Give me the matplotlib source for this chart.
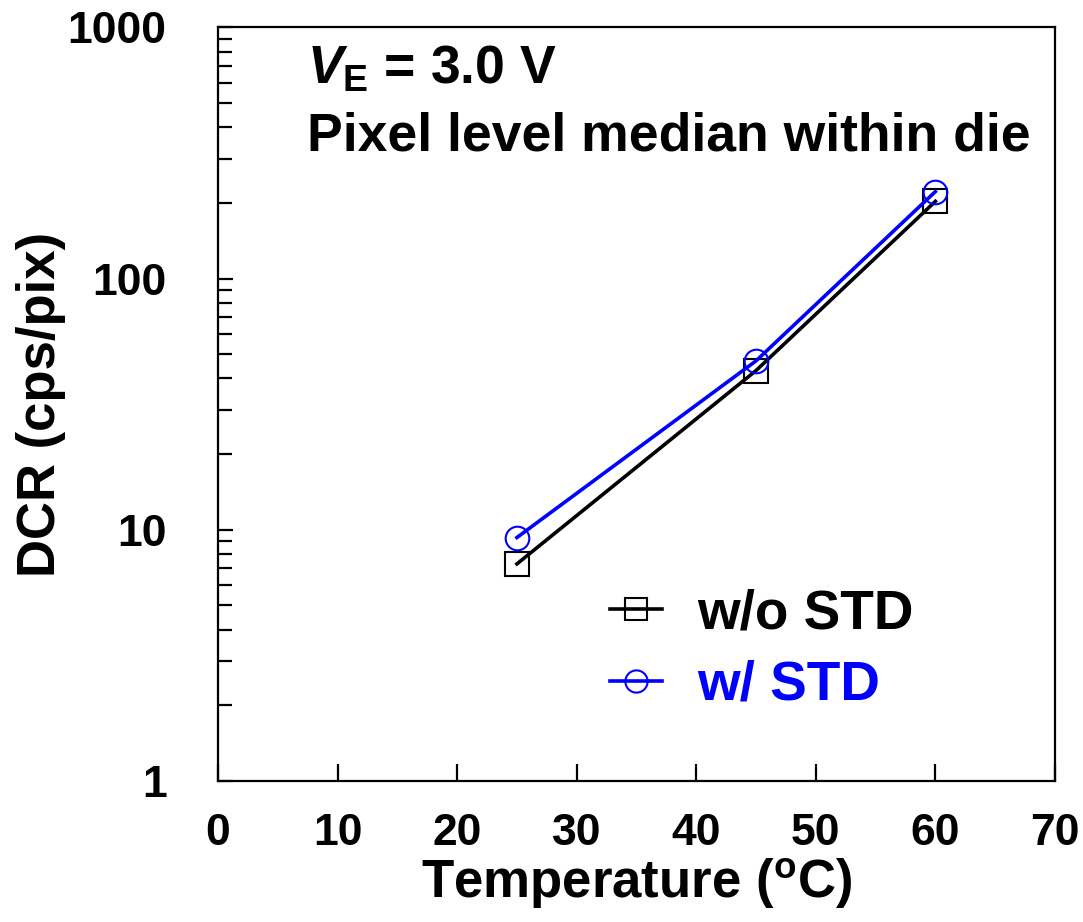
#!/usr/bin/env python3
"""DCR vs temperature, pixel level median within die."""

import matplotlib
matplotlib.use("Agg")
import matplotlib.pyplot as plt
from matplotlib.ticker import FixedLocator, LogLocator, NullFormatter, FuncFormatter

TEMPS_C = [25, 45, 60]
DCR_WO_STD = [7.3, 43, 203]
DCR_W_STD = [9.3, 47, 222]

X_TICKS = [0, 10, 20, 30, 40, 50, 60, 70]
Y_TICKS = [1, 10, 100, 1000]

LABEL_WO = "w/o STD"
LABEL_W = "w/ STD"


def make_figure() -> None:
    plt.rcParams.update({
        "font.family": ["Liberation Sans", "DejaVu Sans"],
        "font.weight": "bold",
        "mathtext.fontset": "custom",
        "mathtext.rm": "Liberation Sans:bold",
        "mathtext.it": "Liberation Sans:bold:italic",
        "mathtext.bf": "Liberation Sans:bold",
        "axes.linewidth": 1.6,
    })
    fig = plt.figure(figsize=(10.83, 9.22), dpi=100)
    ax = fig.add_axes([0.2013, 0.1533, 0.7728, 0.8169])

    line_kw = dict(linewidth=2.6, markersize=17, markeredgewidth=1.5, fillstyle="none")
    ax.plot(TEMPS_C, DCR_WO_STD, color="black", marker="s", label=LABEL_WO, **line_kw)
    ax.plot(TEMPS_C, DCR_W_STD, color="#0000ff", marker="o", label=LABEL_W, **line_kw)

    ax.set_yscale("log")
    ax.set_xlim(0, 70)
    ax.set_ylim(1, 1000)
    ax.xaxis.set_major_locator(FixedLocator(X_TICKS))
    ax.yaxis.set_major_locator(FixedLocator(Y_TICKS))
    ax.yaxis.set_minor_locator(LogLocator(base=10, subs=range(2, 10)))
    ax.yaxis.set_minor_formatter(NullFormatter())
    ax.yaxis.set_major_formatter(FuncFormatter(lambda v, p: f"{v:g}"))

    ax.tick_params(axis="both", which="both", direction="in", top=False, right=False,
                   width=1.6, labelsize=32)
    ax.tick_params(axis="x", which="major", length=12, pad=23)
    ax.tick_params(axis="y", which="major", length=11, pad=37)
    ax.tick_params(axis="y", which="minor", length=10)

    ax.set_xlabel(r"Temperature ($^{\rm o}$C)", fontsize=38, fontweight="bold", labelpad=2)
    ax.set_ylabel("DCR (cps/pix)", fontsize=38, fontweight="bold", labelpad=1)

    ax.text(0.106, 0.926, r"$V_{\rm E}$ = 3.0 V", transform=ax.transAxes,
            fontsize=38.5, fontweight="bold", va="baseline", ha="left")
    ax.text(0.106, 0.837, "Pixel level median within die", transform=ax.transAxes,
            fontsize=38.5, fontweight="bold", va="baseline", ha="left")

    leg = ax.legend(loc="upper left", bbox_to_anchor=(0.468, 0.255), frameon=False,
                    fontsize=39.5, handlelength=0.95, handletextpad=0.65, labelspacing=0.35,
                    borderpad=0, borderaxespad=0, labelcolor="linecolor")
    for handle in leg.legend_handles:
        handle.set_markersize(16)

    fig.savefig("out.png", dpi=100)
    plt.close(fig)


if __name__ == "__main__":
    make_figure()
